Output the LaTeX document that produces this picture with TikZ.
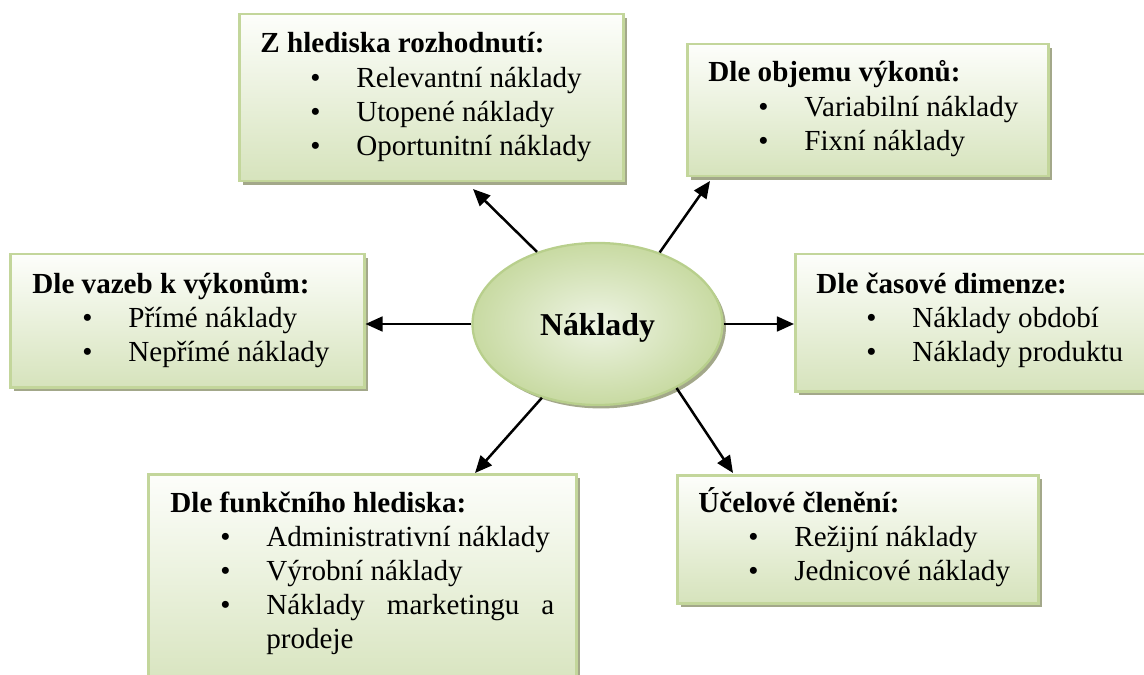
\documentclass[tikz,border=0pt]{standalone}
\usepackage{fontspec}
\setmainfont{Liberation Serif}
\usepackage{xcolor}
\usepackage{tikz}
\usetikzlibrary{arrows.meta,shapes.geometric,shadows}
\definecolor{panelborder}{RGB}{195,214,155}
\definecolor{paneltop}{RGB}{253,254,251}
\definecolor{panelbottom}{RGB}{214,227,188}
\definecolor{panelshadow}{RGB}{163,168,138}
\definecolor{hubinner}{RGB}{238,244,228}
\definecolor{hubouter}{RGB}{200,218,162}
\definecolor{hubborder}{RGB}{184,207,140}
\newcommand{\itm}[1]{\hspace*{22pt}\makebox[20.2pt][l]{\textbullet}#1}
\tikzset{
    Panel/.style 2 args = {rectangle,draw=panelborder,line width=1.1pt,
        top color=paneltop,bottom color=panelbottom,inner sep=0pt,
        minimum width=#1*0.44pt,minimum height=#2*0.44pt,anchor=north west,
        drop shadow={shadow xshift=1.5pt,shadow yshift=-1.5pt,fill=panelshadow,opacity=1}},
    Caption/.style = {inner sep=0pt,anchor=base west,
        font=\fontsize{12.8}{15}\selectfont},
    Hub/.style = {ellipse,draw=hubborder,line width=1pt,inner sep=0pt,
        inner color=hubinner,outer color=hubouter,
        minimum width=110pt,minimum height=71.3pt,
        font=\fontsize{14}{16}\selectfont\bfseries,
        drop shadow={shadow xshift=1.5pt,shadow yshift=-1.5pt,fill=panelshadow,opacity=1}},
    Link/.style = {line width=1.1pt,-{Triangle[length=7.5pt,width=6.5pt]}}
}
\begin{document}
\begin{tikzpicture}[x=0.44pt,y=-0.44pt]
        \useasboundingbox (0,0) rectangle (1144,675);
        % panels
        \node[Panel={384}{167}] (zh) at (238,13) {};
        \node[Panel={361}{132}] (ov) at (686,43) {};
        \node[Panel={354}{133}] (vv) at (9,253) {};
        \node[Panel={370}{137}] (cd) at (794,253) {};
        \node[Panel={428}{220}] (fh) at (147,473) {};
        \node[Panel={361}{128}] (uc) at (676,474) {};
        % texts
        \node[Caption] (zh-t) at (260,53) {\begin{tabular}[t]{@{}l@{}}
            \textbf{Z hlediska rozhodnutí:}\\
            \itm{Relevantní náklady}\\
            \itm{Utopené náklady}\\
            \itm{Oportunitní náklady}\end{tabular}};
        \node[Caption] (ov-t) at (708,82) {\begin{tabular}[t]{@{}l@{}}
            \textbf{Dle objemu výkonů:}\\
            \itm{Variabilní náklady}\\
            \itm{Fixní náklady}\end{tabular}};
        \node[Caption] (vv-t) at (32,293) {\begin{tabular}[t]{@{}l@{}}
            \textbf{Dle vazeb k výkonům:}\\
            \itm{Přímé náklady}\\
            \itm{Nepřímé náklady}\end{tabular}};
        \node[Caption] (cd-t) at (816,293) {\begin{tabular}[t]{@{}l@{}}
            \textbf{Dle časové dimenze:}\\
            \itm{Náklady období}\\
            \itm{Náklady produktu}\end{tabular}};
        \node[Caption] (fh-t) at (170,512) {\begin{tabular}[t]{@{}l@{}}
            \textbf{Dle funkčního hlediska:}\\
            \itm{Administrativní náklady}\\
            \itm{Výrobní náklady}\\
            \itm{\makebox[126.7pt][s]{Náklady marketingu a}}\\
            \hspace*{42.2pt}prodeje\end{tabular}};
        \node[Caption] (uc-t) at (698,512) {\begin{tabular}[t]{@{}l@{}}
            \textbf{Účelové členění:}\\
            \itm{Režijní náklady}\\
            \itm{Jednicové náklady}\end{tabular}};
        % centre
        \node[Hub] (cost) at (597.5,324) {\raisebox{-5pt}[0pt][0pt]{Náklady}};
        \coordinate (zh-in) at (473,189);
        \coordinate (ov-in) at (710,181);
        \coordinate (fh-in) at (475,473);
        \coordinate (uc-in) at (733,473);
        \foreach \A/\T in {130/zh-in,49/ov-in,233/fh-in,321/uc-in}
            {\draw[Link] (cost.\A) -- (\T);}
        \draw[Link] (cost.west) -- (cost.west -| vv.east);
        \draw[Link] (cost.east) -- (cost.east -| cd.west);
\end{tikzpicture}
\end{document}
